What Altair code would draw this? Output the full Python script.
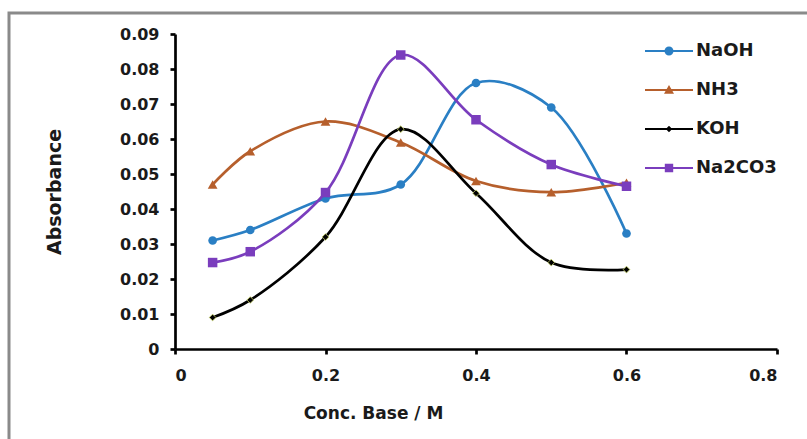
import altair as alt
import pandas as pd

conc = [0.05, 0.1, 0.2, 0.3, 0.4, 0.5, 0.6]
naoh = [0.031, 0.034, 0.043, 0.047, 0.076, 0.069, 0.033]
nh3 = [0.047, 0.0565, 0.065, 0.059, 0.048, 0.0448, 0.0475]
koh = [0.009, 0.014, 0.032, 0.0628, 0.0445, 0.0247, 0.0227]
na2co3 = [0.0247, 0.0278, 0.0447, 0.084, 0.0655, 0.0527, 0.0465]

series_names = ["NaOH", "NH3", "KOH", "Na2CO3"]
series_values = [naoh, nh3, koh, na2co3]
colors = ["#2a7fc4", "#b65f2c", "#000000", "#7a3dbd"]

x_ticks = [0, 0.2, 0.4, 0.6, 0.8]
y_ticks = [0, 0.01, 0.02, 0.03, 0.04, 0.05, 0.06, 0.07, 0.08, 0.09]

rows = []
for name, vals in zip(series_names, series_values):
    for c, v in zip(conc, vals):
        rows.append({"conc": c, "abs": v, "series": name})
df = pd.DataFrame(rows)

x_axis = alt.Axis(
    values=x_ticks,
    labelExpr="datum.value == 0 ? '0' : format(datum.value, '.1f')",
    title="Conc. Base / M",
    titleX=198,
    titleY=64,
    titleBaseline="middle",
    labelPadding=13,
    labelOverlap=False,
)
y_axis = alt.Axis(
    values=y_ticks,
    labelExpr="datum.value == 0 ? '0' : format(datum.value, '.2f')",
    title="Absorbance",
    titleX=-111,
    labelPadding=11,
    labelOverlap=False,
)


def xe():
    return alt.X("conc:Q", scale=alt.Scale(domain=[0, 0.8], nice=False, zero=True), axis=x_axis)


def ye():
    return alt.Y("abs:Q", scale=alt.Scale(domain=[0, 0.09], nice=False, zero=True), axis=y_axis)


base = alt.Chart(df)

marker_specs = {
    "NaOH": dict(shape="circle", size=75, strokeWidth=0),
    "NH3": dict(shape="triangle-up", size=95, strokeWidth=0),
    "KOH": dict(shape="diamond", size=45, strokeWidth=0.8, stroke="#c9d46a"),
    "Na2CO3": dict(shape="square", size=90, strokeWidth=0),
}

series_layers = []
for name, col in zip(series_names, colors):
    sub = base.transform_filter(alt.datum.series == name)
    series_layers.append(
        sub.mark_line(interpolate="catmull-rom", strokeWidth=2.7, color=col).encode(x=xe(), y=ye())
    )
    series_layers.append(
        sub.mark_point(filled=True, opacity=1, color=col, **marker_specs[name]).encode(x=xe(), y=ye())
    )

# legend symbol paths: a line with a marker on it (unit = 10 px, size 400)
line_part = "M-2.4,-0.11 H2.4 V0.11 H-2.4 Z "
legend_paths = [
    line_part + "M-0.45,0 A0.45,0.45 0 1,1 0.45,0 A0.45,0.45 0 1,1 -0.45,0 Z",
    line_part + "M0,-0.5 L0.5,0.38 L-0.5,0.38 Z",
    line_part + "M0,-0.32 L0.32,0 L0,0.32 L-0.32,0 Z",
    line_part + "M-0.42,-0.42 H0.42 V0.42 H-0.42 Z",
]

legend_layer = (
    base.transform_filter("datum.abs < 0")
    .mark_point(filled=True, opacity=1, size=400)
    .encode(
        x=xe(),
        y=ye(),
        color=alt.Color(
            "series:N",
            scale=alt.Scale(domain=series_names, range=colors),
            legend=alt.Legend(title=None),
        ),
        shape=alt.Shape(
            "series:N",
            scale=alt.Scale(domain=series_names, range=legend_paths),
            legend=alt.Legend(title=None),
        ),
    )
)

border = alt.Chart(alt.Data(values=[{}])).mark_rect(
    fill=None, stroke="#8a8a8a", strokeWidth=3
).encode(
    x=alt.value(-166),
    x2=alt.value(650),
    y=alt.value(-21),
    y2=alt.value(430),
)

chart = (
    alt.layer(border, *series_layers, legend_layer)
    .properties(
        width=602,
        height=315,
        autosize=alt.AutoSizeParams(type="none"),
        padding={"left": 175, "top": 34, "right": 30, "bottom": 90},
        background="white",
    )
    .configure_view(stroke=None)
    .configure_axis(
        grid=False,
        domainColor="#000000",
        domainWidth=2.7,
        tickColor="#000000",
        tickWidth=2.7,
        tickSize=5,
        labelFont="DejaVu Sans",
        labelFontWeight="bold",
        labelFontSize=16,
        labelColor="#1a1a1a",
        titleFont="DejaVu Sans",
        titleFontWeight="bold",
        titleFontSize=17,
        titleColor="#1a1a1a",
    )
    .configure_axisY(titleFontSize=19)
    .configure_legend(
        orient="none",
        legendX=484,
        legendY=7,
        padding=0,
        rowPadding=20,
        labelOffset=17,
        labelFont="DejaVu Sans",
        labelFontWeight="bold",
        labelFontSize=18,
        labelColor="#1a1a1a",
        symbolOpacity=1,
        symbolStrokeWidth=0,
        symbolSize=400,
        labelBaseline="middle",
    )
)

chart.save("out.html", embed_options={"renderer": "svg", "actions": False})
